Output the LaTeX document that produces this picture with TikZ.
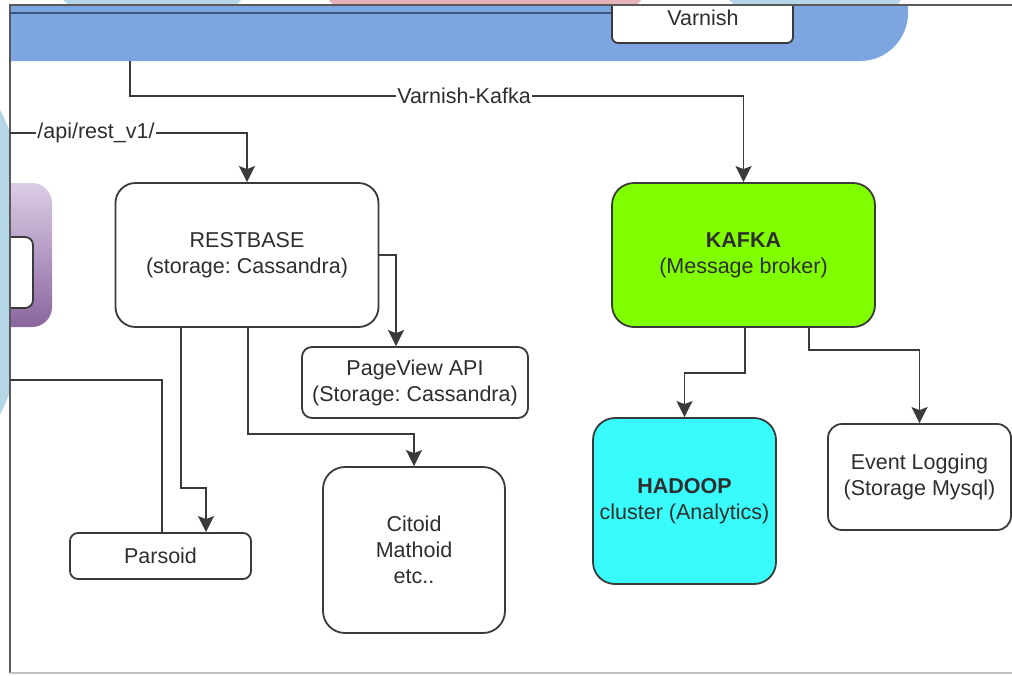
\documentclass[tikz,border=0pt]{standalone}
\usepackage{fontspec}
\setmainfont{Liberation Sans}
\usetikzlibrary{arrows.meta}
\definecolor{ln}{HTML}{3A3A3A}
\definecolor{bandc}{HTML}{7DA6E0}
\definecolor{bandline}{HTML}{3B5683}
\definecolor{kafkag}{HTML}{80FF00}
\definecolor{hadc}{HTML}{38FCFC}
\definecolor{bgblue}{HTML}{B5D6E6}
\definecolor{bgpink}{HTML}{E6B3B8}
\definecolor{purpTop}{HTML}{DCCDE6}
\definecolor{purpBot}{HTML}{8A659F}
\definecolor{framec}{HTML}{5A5A5A}
\definecolor{txt}{HTML}{2E2E2E}
\frenchspacing
\begin{document}
\begin{tikzpicture}[x=1pt,y=-1pt,
  box/.style={draw=ln, line width=1.8pt, fill=white, align=center,
    font=\fontsize{21.5}{26}\selectfont, text=txt, inner sep=0pt},
  conn/.style={draw=ln, line width=1.8pt},
  arr/.style={conn, -{Stealth[width=16pt,length=16pt,inset=3pt]}},
  lbl/.style={fill=white, inner sep=1pt, font=\fontsize{21.5}{26}\selectfont, text=txt}]
\useasboundingbox (0,0) rectangle (1012,675);
\fill[white] (0,0) rectangle (1012,675);
% background slivers
\begin{scope}
  \clip (0,0) rectangle (1012,5);
  \fill[bgblue] (62,-1) -- (242,-1) -- (236,6) -- (70,6) -- cycle;
  \fill[bgpink] (328,-1) -- (642,-1) -- (636,6) -- (334,6) -- cycle;
  \fill[bgblue] (728,-1) -- (902,-1) -- (896,6) -- (736,6) -- cycle;
\end{scope}
\begin{scope}
  \clip (0,0) rectangle (10,675);
  \fill[bgblue] (-315,262) circle[radius=350];
\end{scope}
% top band
\fill[bandc] (10,6) -- (908,6) [rounded corners=48pt] -- (908,61) [sharp corners] -- (10,61) -- cycle;
\draw[bandline, line width=2pt] (10,13) -- (612,13);
\begin{scope}
  \clip (0,5) rectangle (1012,675);
  \node[box, rounded corners=6pt, minimum width=181pt, minimum height=56pt] (varnish) at (702.5,15) {};
\end{scope}
\node[font=\fontsize{21.5}{26}\selectfont, text=txt] (varnishtxt) at (703,18) {Varnish};
% purple box at left edge
\begin{scope}
  \clip (10,0) rectangle (200,675);
  \node[rounded corners=20pt, top color=purpTop, bottom color=purpBot, minimum width=100pt, minimum height=144pt, inner sep=0pt] (mw) at (2,255) {};
  \node[draw=ln, line width=1.8pt, fill=white, rounded corners=8pt, minimum width=60pt, minimum height=71pt, inner sep=0pt] (mwin) at (3,272.5) {};
\end{scope}
% frame
\draw[framec, line width=1.5pt] (1012,5) -- (10,5) -- (10,673);
\draw[black!25, line width=1.2pt] (10,673) -- (1012,673);
% nodes
\node[box, rounded corners=20pt, minimum width=263pt, minimum height=144pt] (restbase) at (247,255)
  {RESTBASE\\(storage: Cassandra)};
\node[box, rounded corners=10pt, minimum width=226pt, minimum height=71pt] (pageview) at (415,382.5)
  {PageView API\\(Storage: Cassandra)};
\node[box, rounded corners=8pt, minimum width=181pt, minimum height=46pt] (parsoid) at (160.5,556)
  {Parsoid};
\node[box, rounded corners=22pt, minimum width=182pt, minimum height=166pt] (citoid) at (414,550)
  {Citoid\\Mathoid\\etc..};
\node[box, fill=kafkag, rounded corners=22pt, minimum width=263pt, minimum height=144pt] (kafka) at (743.5,255)
  {\textbf{KAFKA}\\(Message broker)};
\node[box, fill=hadc, rounded corners=22pt, minimum width=183pt, minimum height=166pt] (hadoop) at (684.5,501)
  {\textbf{HADOOP}\\cluster (Analytics)};
\node[box, rounded corners=14pt, minimum width=183pt, minimum height=106pt] (evlog) at (919.5,477)
  {Event Logging\\(Storage Mysql)};
% connectors
\coordinate (vk) at (130,61);
\coordinate (api) at (10,133);
\coordinate (lp) at (10,380);
\draw[arr] (vk) -- (130,96) -| (kafka.north);
\node[lbl] (vklbl) at (464,96) {Varnish-Kafka};
\draw[arr] (api) -| (restbase.north);
\node[lbl] (apilbl) at (96,133) {/api/rest\_v1/};
\draw[arr] (restbase.east) -| ([xshift=-19pt]pageview.north);
\draw[arr] ([xshift=-66pt]restbase.south) -- ++(0,160) -| ([xshift=45.5pt]parsoid.north);
\draw[conn] (lp) -| ([xshift=1.5pt]parsoid.north);
\draw[arr] ([xshift=1pt]restbase.south) -- ++(0,106) -| (citoid.north);
\draw[arr] ([xshift=1.5pt]kafka.south) -- ++(0,45) -| (hadoop.north);
\draw[arr] ([xshift=65.5pt]kafka.south) -- ++(0,22) -| (evlog.north);
\end{tikzpicture}
\end{document}
